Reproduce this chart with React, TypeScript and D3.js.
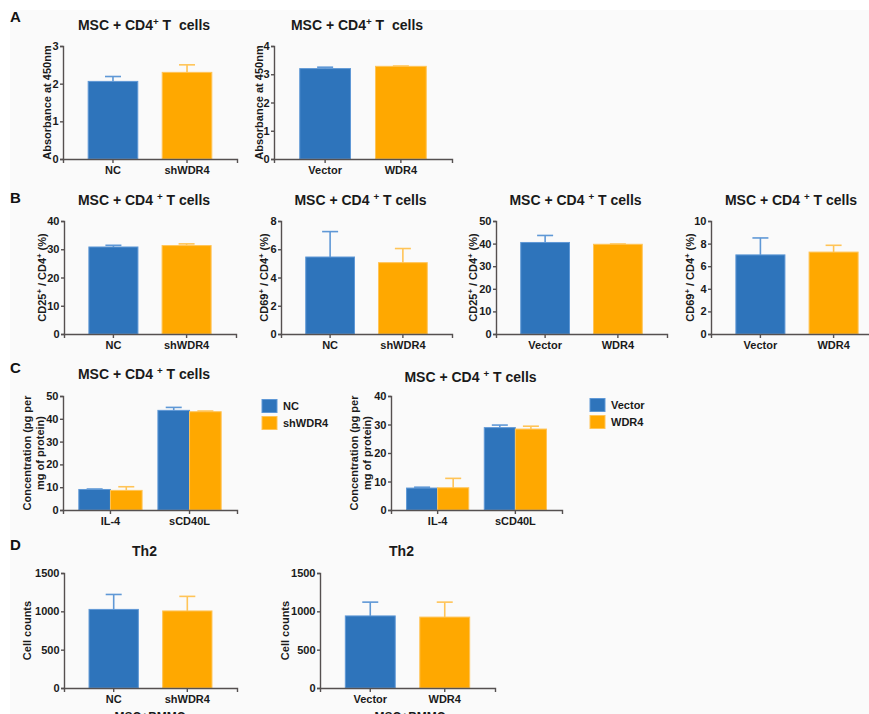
import React, { useRef, useEffect } from "react";
import * as d3 from "d3";

// groups
const kdGroups = ["NC", "shWDR4"];
const oeGroups = ["Vector", "WDR4"];
const cytokines = ["IL-4", "sCD40L"];

// A: absorbance at 450nm (mean, upper SD)
const absKd = [2.06, 2.3];
const absKdErr = [0.13, 0.2];
const absOe = [3.2, 3.28];
const absOeErr = [0.05, 0.01];

// B: CD25+ / CD69+ percent
const cd25Kd = [30.8, 31.3];
const cd25KdErr = [0.6, 0.6];
const cd69Kd = [5.45, 5.05];
const cd69KdErr = [1.8, 1.0];
const cd25Oe = [40.5, 39.7];
const cd25OeErr = [3.1, 0.1];
const cd69Oe = [7.0, 7.25];
const cd69OeErr = [1.5, 0.6];

// C: cytokines, per cytokine [control, treated]
const cytoKd = [[9.0, 8.6], [43.7, 43.1]];
const cytoKdErr = [[0.2, 1.6], [1.3, 0.3]];
const cytoOe = [[7.7, 7.8], [28.9, 28.4]];
const cytoOeErr = [[0.3, 3.3], [0.9, 1.0]];

// D: Th2 cell counts
const th2Kd = [1025, 1005];
const th2KdErr = [195, 190];
const th2Oe = [940, 925];
const th2OeErr = [180, 195];

const FONT = "'Liberation Sans', Arial, sans-serif";
const AXIS = "#555050";
const BLUE = "#2e74bb";
const BLUE_EDGE = "#5f98d6";
const ORANGE = "#ffa800";
const ORANGE_EDGE = "#ffc457";
const fills = [BLUE, ORANGE];
const edges = [BLUE_EDGE, ORANGE_EDGE];

const Axis = ({ scale, orient, ticks, transform }: any) => {
  const ref = useRef<SVGGElement>(null);
  useEffect(() => {
    const g = d3.select(ref.current);
    const ax = orient === "left" ? d3.axisLeft(scale) : d3.axisBottom(scale);
    if (orient === "left") ax.tickSizeOuter(0).tickSize(3).tickPadding(1.5);
    else ax.tickSizeOuter(0).tickSize(4).tickPadding(3);
    if (ticks) ax.tickValues(ticks).tickFormat((d: any) => String(d));
    g.call(ax as any);
    g.attr("font-family", FONT).attr("font-size", 11);
    g.selectAll("path, line").attr("stroke", AXIS).attr("stroke-width", 1.4);
    g.selectAll("text").attr("font-weight", "bold").attr("fill", "#1a1a1a");
  }, [scale, orient, ticks]);
  return <g ref={ref} transform={transform} />;
};

const Sup = ({ s }: { s: string }) => (
  <tspan baselineShift="super" fontSize="0.7em">
    {s}
  </tspan>
);

const YLabel = ({ x, y, lines }: any) => (
  <text
    transform={`translate(${x},${y}) rotate(-90)`}
    textAnchor="middle"
    fontFamily={FONT}
    fontSize={11}
    fontWeight="bold"
    fill="#1a1a1a"
  >
    {lines.map((l: any, i: number) => (
      <tspan key={i} x={0} dy={i === 0 ? (lines.length > 1 ? "-0.2em" : "0.35em") : "1.2em"}>
        {l}
      </tspan>
    ))}
  </text>
);

const Title = ({ x, y, children }: any) => (
  <text x={x} y={y} textAnchor="middle" fontFamily={FONT} fontSize={14} fontWeight="bold" fill="#1a1a1a">
    {children}
  </text>
);

const ErrBar = ({ cx, y0, y1, color }: any) => (
  <g stroke={color} strokeWidth={1.6}>
    <line x1={cx} x2={cx} y1={y0} y2={y1} />
    <line x1={cx - 8} x2={cx + 8} y1={y1} y2={y1} />
  </g>
);

const BarPanel = ({ cats, values, errs, max, step, x0, x1, yTop, yBottom, title, titleY, ylabel, ylabelX }: any) => {
  const x = d3.scaleBand().domain(cats).range([x0, x1]).paddingInner(0.33).paddingOuter(0.34);
  const y = d3.scaleLinear().domain([0, max]).range([yBottom, yTop]);
  const ticks = d3.range(0, max + step / 2, step);
  return (
    <g>
      <Title x={(x0 + x1) / 2 - 6} y={titleY}>{title}</Title>
      {cats.map((c: string, i: number) => (
        <g key={c}>
          <ErrBar cx={x(c)! + x.bandwidth() / 2} y0={y(values[i])} y1={y(values[i] + errs[i])} color={edges[i]} />
          <rect
            x={x(c)}
            y={y(values[i])}
            width={x.bandwidth()}
            height={yBottom - y(values[i])}
            fill={fills[i]}
            stroke={edges[i]}
            strokeWidth={1}
          />
        </g>
      ))}
      <Axis scale={y} orient="left" ticks={ticks} transform={`translate(${x0},0)`} />
      <Axis scale={x} orient="bottom" transform={`translate(0,${yBottom})`} />
      <YLabel x={ylabelX} y={(yTop + yBottom) / 2} lines={ylabel} />
    </g>
  );
};

const GroupPanel = ({ groups, series, values, errs, max, step, x0, x1, yTop, yBottom, title, titleY, ylabel, ylabelX, legendX, legendY }: any) => {
  const x = d3.scaleBand().domain(groups).range([x0, x1]).paddingInner(0.2).paddingOuter(0.2);
  const xs = d3.scaleBand().domain(series).range([0, x.bandwidth()]);
  const y = d3.scaleLinear().domain([0, max]).range([yBottom, yTop]);
  const ticks = d3.range(0, max + step / 2, step);
  return (
    <g>
      <Title x={(x0 + x1) / 2 - 6} y={titleY}>{title}</Title>
      {groups.map((g: string, gi: number) =>
        series.map((s: string, si: number) => {
          const v = values[gi][si];
          const bx = x(g)! + xs(s)!;
          return (
            <g key={g + s}>
              <ErrBar cx={bx + xs.bandwidth() / 2} y0={y(v)} y1={y(v + errs[gi][si])} color={edges[si]} />
              <rect x={bx} y={y(v)} width={xs.bandwidth()} height={yBottom - y(v)} fill={fills[si]} stroke={edges[si]} strokeWidth={1} />
            </g>
          );
        })
      )}
      <Axis scale={y} orient="left" ticks={ticks} transform={`translate(${x0},0)`} />
      <Axis scale={x} orient="bottom" transform={`translate(0,${yBottom})`} />
      <YLabel x={ylabelX} y={(yTop + yBottom) / 2} lines={ylabel} />
      {series.map((s: string, i: number) => (
        <g key={s} transform={`translate(${legendX},${legendY + i * 17})`}>
          <rect x={0} y={-6.5} width={15} height={13} fill={fills[i]} stroke={edges[i]} />
          <text x={21} y={4} fontFamily={FONT} fontSize={11} fontWeight="bold" fill="#1a1a1a">
            {s}
          </text>
        </g>
      ))}
    </g>
  );
};

const Letter = ({ y, t }: any) => (
  <text x={10} y={y} fontFamily={FONT} fontSize={15} fontWeight="bold" fill="#111">
    {t}
  </text>
);

const titleA = (
  <>
    MSC + CD4<Sup s="+" /> T{"\u00a0"} cells
  </>
);
const titleB = (
  <>
    MSC + CD4 <Sup s="+" /> T cells
  </>
);
const cd25Label = [
  <>
    CD25<Sup s="+" /> / CD4<Sup s="+" /> (%)
  </>,
];
const cd69Label = [
  <>
    CD69<Sup s="+" /> / CD4<Sup s="+" /> (%)
  </>,
];
const concLabel = ["Concentration (pg per", "mg of protein)"];

export default function App() {
  return (
    <svg width={869} height={714} style={{ position: "absolute", left: 0, top: 0 }}>
      <rect width={869} height={714} fill="#ffffff" />
      <rect x={10} y={10} width={859} height={704} fill="#fafafa" />

      <Letter y={22} t="A" />
      <BarPanel cats={kdGroups} values={absKd} errs={absKdErr} max={3} step={1} x0={63} x1={237} yTop={46} yBottom={159}
        title={titleA} titleY={30} ylabel={["Absorbance at 450nm"]} ylabelX={47} />
      <BarPanel cats={oeGroups} values={absOe} errs={absOeErr} max={4} step={1} x0={274} x1={452} yTop={46} yBottom={159}
        title={titleA} titleY={30} ylabel={["Absorbance at 450nm"]} ylabelX={259} />

      <Letter y={203} t="B" />
      <BarPanel cats={kdGroups} values={cd25Kd} errs={cd25KdErr} max={40} step={10} x0={64} x1={236} yTop={221} yBottom={334}
        title={titleB} titleY={205} ylabel={cd25Label} ylabelX={42} />
      <BarPanel cats={kdGroups} values={cd69Kd} errs={cd69KdErr} max={8} step={2} x0={281} x1={452} yTop={221} yBottom={334}
        title={titleB} titleY={205} ylabel={cd69Label} ylabelX={264} />
      <BarPanel cats={oeGroups} values={cd25Oe} errs={cd25OeErr} max={50} step={10} x0={496} x1={667} yTop={221} yBottom={334}
        title={titleB} titleY={205} ylabel={cd25Label} ylabelX={473} />
      <BarPanel cats={oeGroups} values={cd69Oe} errs={cd69OeErr} max={10} step={2} x0={711} x1={883} yTop={221} yBottom={334}
        title={titleB} titleY={205} ylabel={cd69Label} ylabelX={690} />

      <Letter y={373} t="C" />
      <GroupPanel groups={cytokines} series={kdGroups} values={cytoKd} errs={cytoKdErr} max={50} step={10} x0={63} x1={237}
        yTop={396} yBottom={510} title={titleB} titleY={379} ylabel={concLabel} ylabelX={33} legendX={262} legendY={406} />
      <GroupPanel groups={cytokines} series={oeGroups} values={cytoOe} errs={cytoOeErr} max={40} step={10} x0={391} x1={562}
        yTop={396} yBottom={510} title={titleB} titleY={382} ylabel={concLabel} ylabelX={360} legendX={590} legendY={405} />

      <Letter y={550} t="D" />
      <BarPanel cats={kdGroups} values={th2Kd} errs={th2KdErr} max={1500} step={500} x0={64} x1={237} yTop={573} yBottom={688}
        title="Th2" titleY={556} ylabel={["Cell counts"]} ylabelX={27} />
      <BarPanel cats={oeGroups} values={th2Oe} errs={th2OeErr} max={1500} step={500} x0={320} x1={495} yTop={573} yBottom={688}
        title="Th2" titleY={556} ylabel={["Cell counts"]} ylabelX={285} />

      <text x={150} y={721} textAnchor="middle" fontFamily={FONT} fontSize={12} fontWeight="bold" fill="#1a1a1a">MSC+BMMC</text>
      <text x={410} y={721} textAnchor="middle" fontFamily={FONT} fontSize={12} fontWeight="bold" fill="#1a1a1a">MSC+BMMC</text>
    </svg>
  );
}
